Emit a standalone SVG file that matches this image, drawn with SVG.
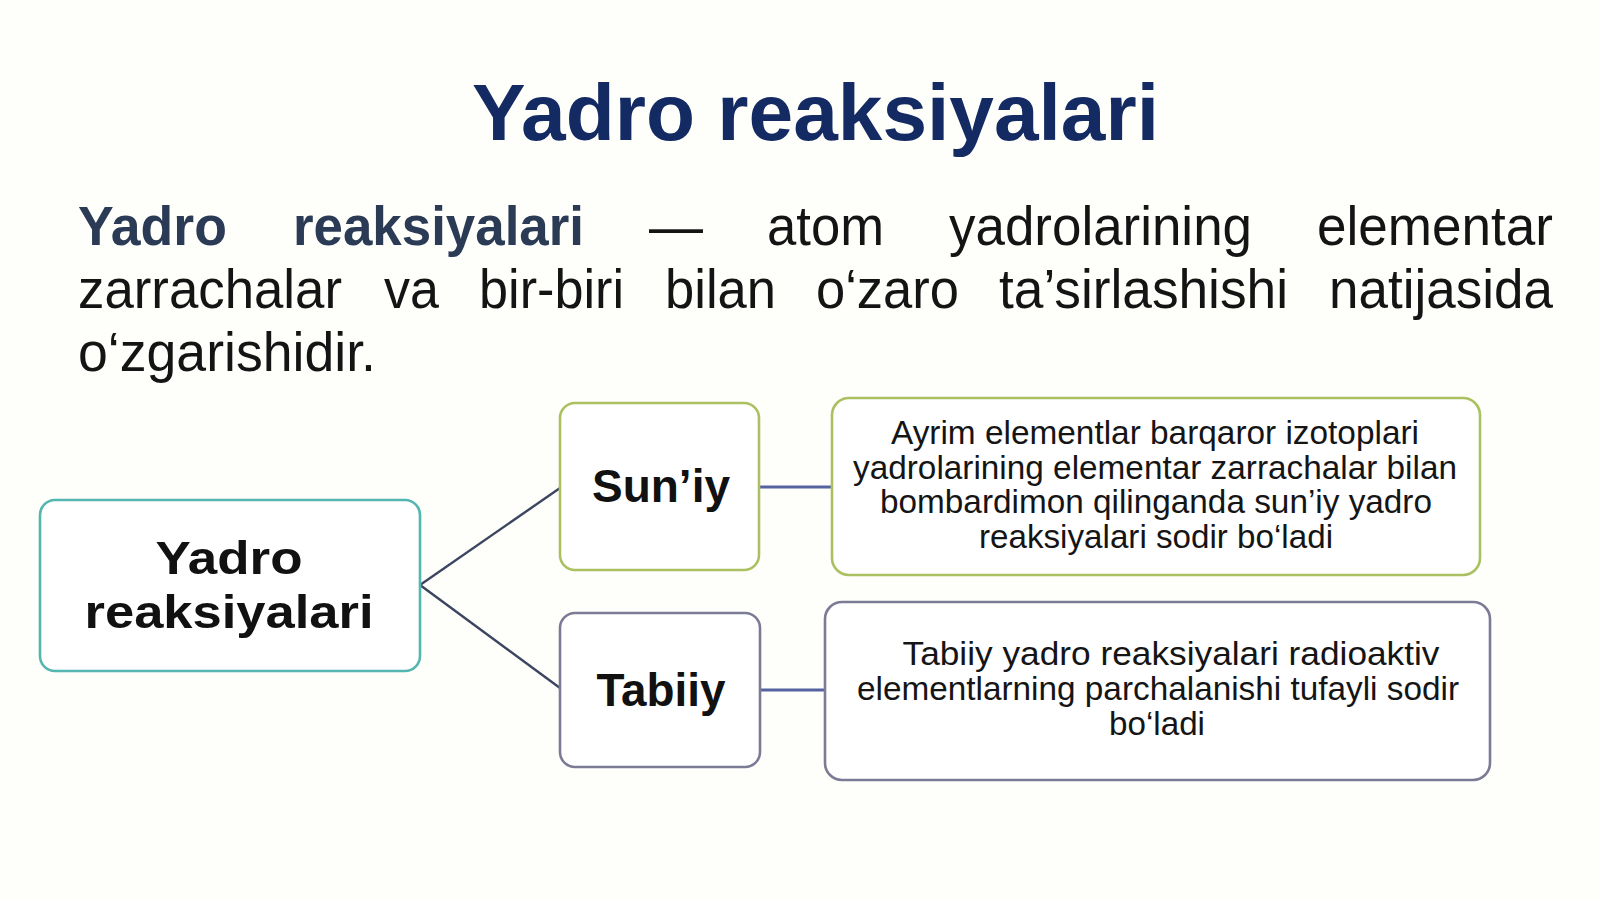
<svg xmlns="http://www.w3.org/2000/svg" width="1600" height="899" viewBox="0 0 1600 899">
<style>
.bg{fill:#fefefb}
.title{font-family:"Liberation Sans",Arial,sans-serif;font-weight:bold;font-size:80px;fill:#132a63}
.p{font-family:"Liberation Sans",Arial,sans-serif;font-size:56px;fill:#141414}
.pb{font-family:"Liberation Sans",Arial,sans-serif;font-size:56px;font-weight:bold;fill:#2b3a55}
.box{fill:#ffffff;stroke-width:2.6}
.teal{stroke:#55b5b1}
.green{stroke:#abc060}
.gray{stroke:#7c7b96}
.nl{font-family:"Liberation Sans",Arial,sans-serif;font-weight:bold;fill:#111;text-anchor:middle}
.dl{font-family:"Liberation Sans",Arial,sans-serif;font-size:33px;fill:#151515;text-anchor:middle}
.c1{stroke:#3b4560;stroke-width:2.4;fill:none}
.c2{stroke:#5563a0;stroke-width:3;fill:none}
</style>
<rect class="bg" x="0" y="0" width="1600" height="899"/>
<text class="title" x="472" y="140" textLength="687" lengthAdjust="spacingAndGlyphs">Yadro reaksiyalari</text>
<g id="paragraph">
<text class="pb" x="78" y="245" textLength="149" lengthAdjust="spacingAndGlyphs">Yadro</text>
<text class="pb" x="293" y="245" textLength="291" lengthAdjust="spacingAndGlyphs">reaksiyalari</text>
<text class="p" x="649" y="245" textLength="54" lengthAdjust="spacingAndGlyphs">—</text>
<text class="p" x="767" y="245" textLength="117" lengthAdjust="spacingAndGlyphs">atom</text>
<text class="p" x="949" y="245" textLength="303" lengthAdjust="spacingAndGlyphs">yadrolarining</text>
<text class="p" x="1317" y="245" textLength="236" lengthAdjust="spacingAndGlyphs">elementar</text>
<text class="p" x="78" y="308" textLength="264" lengthAdjust="spacingAndGlyphs">zarrachalar</text>
<text class="p" x="384" y="308" textLength="55" lengthAdjust="spacingAndGlyphs">va</text>
<text class="p" x="479" y="308" textLength="145" lengthAdjust="spacingAndGlyphs">bir-biri</text>
<text class="p" x="665" y="308" textLength="111" lengthAdjust="spacingAndGlyphs">bilan</text>
<text class="p" x="816" y="308" textLength="143" lengthAdjust="spacingAndGlyphs">o‘zaro</text>
<text class="p" x="999" y="308" textLength="289" lengthAdjust="spacingAndGlyphs">ta’sirlashishi</text>
<text class="p" x="1329" y="308" textLength="224" lengthAdjust="spacingAndGlyphs">natijasida</text>
<text class="p" x="78" y="371" textLength="298" lengthAdjust="spacingAndGlyphs">o‘zgarishidir.</text>
</g>
<g id="connectors">
<line class="c1" x1="420" y1="585" x2="560" y2="488"/>
<line class="c1" x1="420" y1="585" x2="560" y2="688"/>
<line class="c2" x1="759" y1="487" x2="832" y2="487"/>
<line class="c2" x1="760" y1="690" x2="825" y2="690"/>
</g>
<g id="node-main">
<rect class="box teal" x="40" y="500" width="380" height="171" rx="15"/>
<text class="nl" x="229" y="574" font-size="47" textLength="147" lengthAdjust="spacingAndGlyphs">Yadro</text>
<text class="nl" x="229" y="628" font-size="47" textLength="289" lengthAdjust="spacingAndGlyphs">reaksiyalari</text>
</g>
<g id="node-suniy">
<rect class="box green" x="560" y="403" width="199" height="167" rx="15"/>
<text class="nl" x="661" y="502" font-size="46" textLength="138" lengthAdjust="spacingAndGlyphs">Sun’iy</text>
</g>
<g id="node-tabiiy">
<rect class="box gray" x="560" y="613" width="200" height="154" rx="15"/>
<text class="nl" x="661" y="706" font-size="46" textLength="129" lengthAdjust="spacingAndGlyphs">Tabiiy</text>
</g>
<g id="node-suniy-desc">
<rect class="box green" x="832" y="398" width="648" height="177" rx="17"/>
<text class="dl" x="1155" y="444" textLength="528" lengthAdjust="spacingAndGlyphs">Ayrim elementlar barqaror izotoplari</text>
<text class="dl" x="1155" y="479" textLength="604" lengthAdjust="spacingAndGlyphs">yadrolarining elementar zarrachalar bilan</text>
<text class="dl" x="1156" y="513" textLength="552" lengthAdjust="spacingAndGlyphs">bombardimon qilinganda sun’iy yadro</text>
<text class="dl" x="1156" y="548" textLength="354" lengthAdjust="spacingAndGlyphs">reaksiyalari sodir bo‘ladi</text>
</g>
<g id="node-tabiiy-desc">
<rect class="box gray" x="825" y="602" width="665" height="178" rx="17"/>
<text class="dl" x="1171" y="665" textLength="537" lengthAdjust="spacingAndGlyphs">Tabiiy yadro reaksiyalari radioaktiv</text>
<text class="dl" x="1158" y="700" textLength="602" lengthAdjust="spacingAndGlyphs">elementlarning parchalanishi tufayli sodir</text>
<text class="dl" x="1157" y="735" textLength="96" lengthAdjust="spacingAndGlyphs">bo‘ladi</text>
</g>
</svg>
